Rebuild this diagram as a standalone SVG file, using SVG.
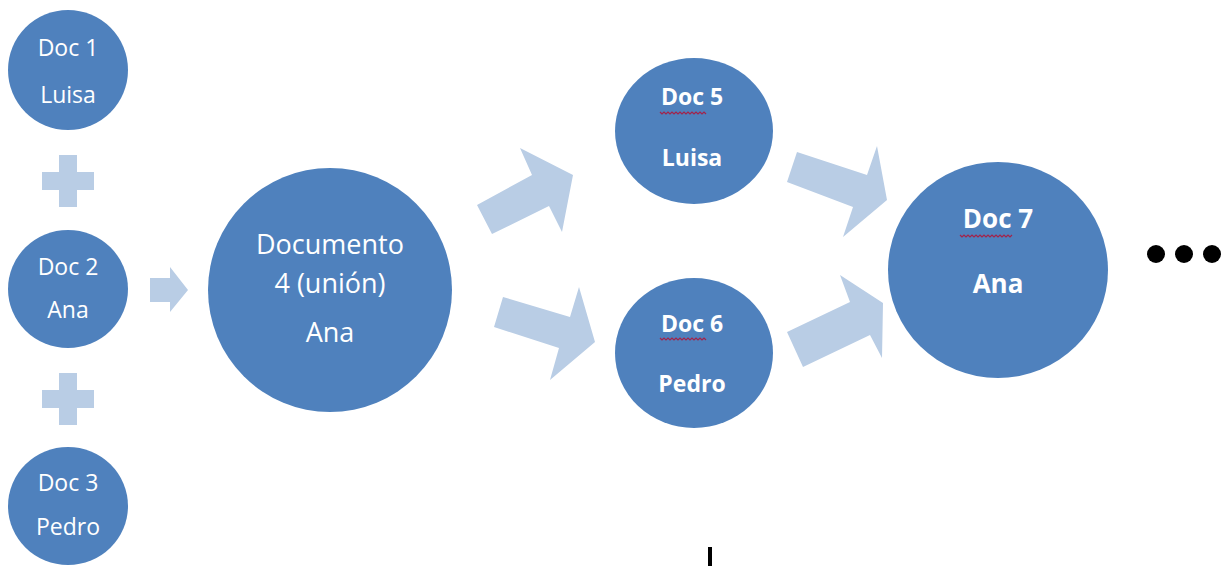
<svg xmlns="http://www.w3.org/2000/svg" width="1222" height="566" viewBox="0 0 1222 566">
<style>
.node{fill:#4f81bd}
.conn{fill:#b9cde5}
.t{font-family:"Open Sans","Liberation Sans",sans-serif;fill:#ffffff;text-anchor:middle}
.r{font-size:23px}
.big{font-size:27px}
.b{font-weight:bold;font-size:23px}
.b7{font-weight:bold;font-size:26px}
.sq{fill:none;stroke:#a3234a;stroke-width:1.2}
</style>
<rect width="1222" height="566" fill="#ffffff"/>
<g id="connectors">
<path class="conn" d="M59,155h18v17h17v18h-17v17h-18v-17h-17v-18h17z"/>
<path class="conn" d="M59,373h18v17h17v18h-17v17h-18v-17h-17v-18h17z"/>
<polygon class="conn" points="150,278 170,278 170,267 188,290 170,312 170,302 150,302"/>
<polygon class="conn" points="477,205 532,175 520,148 573,175 562,232 549,206 492,234"/>
<polygon class="conn" points="503,297 570,317 579,287 595,342 550,380 559,348 494,327"/>
<polygon class="conn" points="797,152 867,175 877,146 887,200 843,237 853,207 787,182"/>
<polygon class="conn" points="787,332 850,302 840,275 883,303 882,358 870,335 803,367"/>
</g>
<g id="doc1">
<ellipse class="node" cx="68" cy="70" rx="60" ry="60"/>
<text class="t r" x="68" y="56">Doc 1</text>
<text class="t r" x="68" y="103">Luisa</text>
</g>
<g id="doc2">
<ellipse class="node" cx="68" cy="289" rx="60" ry="59"/>
<text class="t r" x="68" y="275">Doc 2</text>
<text class="t r" x="68" y="318">Ana</text>
</g>
<g id="doc3">
<ellipse class="node" cx="68" cy="506" rx="60" ry="59"/>
<text class="t r" x="68" y="491">Doc 3</text>
<text class="t r" x="68" y="535">Pedro</text>
</g>
<g id="doc4">
<ellipse class="node" cx="330" cy="290" rx="122" ry="122"/>
<text class="t big" x="330" y="254">Documento</text>
<text class="t big" x="330" y="293">4 (unión)</text>
<text class="t big" x="330" y="342">Ana</text>
</g>
<g id="doc5">
<ellipse class="node" cx="694" cy="131" rx="79" ry="73"/>
<text class="t b" x="692" y="105">Doc 5</text>
<path class="sq" d="M660,112 l2,2 l2,-2 l2,2 l2,-2 l2,2 l2,-2 l2,2 l2,-2 l2,2 l2,-2 l2,2 l2,-2 l2,2 l2,-2 l2,2 l2,-2 l2,2 l2,-2 l2,2 l2,-2 l2,2 l2,-2 l2,2"/>
<text class="t b" x="692" y="166">Luisa</text>
</g>
<g id="doc6">
<ellipse class="node" cx="694" cy="353" rx="79" ry="75"/>
<text class="t b" x="692" y="332">Doc 6</text>
<path class="sq" d="M660,338 l2,2 l2,-2 l2,2 l2,-2 l2,2 l2,-2 l2,2 l2,-2 l2,2 l2,-2 l2,2 l2,-2 l2,2 l2,-2 l2,2 l2,-2 l2,2 l2,-2 l2,2 l2,-2 l2,2 l2,-2 l2,2"/>
<text class="t b" x="692" y="392">Pedro</text>
</g>
<g id="doc7">
<ellipse class="node" cx="998" cy="270" rx="110" ry="108"/>
<text class="t b7" x="998" y="228">Doc 7</text>
<path class="sq" d="M960,235 l2,2 l2,-2 l2,2 l2,-2 l2,2 l2,-2 l2,2 l2,-2 l2,2 l2,-2 l2,2 l2,-2 l2,2 l2,-2 l2,2 l2,-2 l2,2 l2,-2 l2,2 l2,-2 l2,2 l2,-2 l2,2 l2,-2 l2,2 l2,-2"/>
<text class="t b7" x="998" y="293">Ana</text>
</g>
<g id="ellipsis" fill="#000000">
<circle cx="1156" cy="254" r="9"/>
<circle cx="1184" cy="254" r="9"/>
<circle cx="1212" cy="254" r="9"/>
</g>
<rect x="708" y="547" width="4" height="19" fill="#000000"/>
</svg>
